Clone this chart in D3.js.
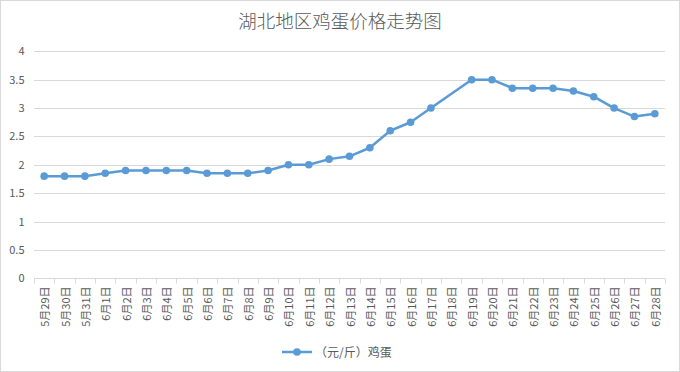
<!DOCTYPE html>
<html>
<head>
<meta charset="utf-8">
<script src="https://cdn.jsdelivr.net/npm/d3@7"></script>
<style>
  body { margin: 0; background: #fff; }
  svg text { font-family: "Noto Sans CJK SC", "Noto Sans", sans-serif; fill: #595959; }
</style>
</head>
<body>
<div id="chart"></div>
<script>
// data (6月18日 has no value)
var days = ["5月29日", "5月30日", "5月31日", "6月1日", "6月2日", "6月3日", "6月4日", "6月5日",
  "6月6日", "6月7日", "6月8日", "6月9日", "6月10日", "6月11日", "6月12日", "6月13日",
  "6月14日", "6月15日", "6月16日", "6月17日", "6月18日", "6月19日", "6月20日", "6月21日",
  "6月22日", "6月23日", "6月24日", "6月25日", "6月26日", "6月27日", "6月28日"]
var prices = [1.8, 1.8, 1.8, 1.85, 1.9, 1.9, 1.9, 1.9, 1.85, 1.85, 1.85, 1.9, 2.0, 2.0, 2.1, 2.15,
  2.3, 2.6, 2.75, 3.0, null, 3.5, 3.5, 3.35, 3.35, 3.35, 3.3, 3.2, 3.0, 2.85, 2.9]
var yTicks = [0, 0.5, 1, 1.5, 2, 2.5, 3, 3.5, 4]
var title = "湖北地区鸡蛋价格走势图"
var seriesName = "（元/斤）鸡蛋"

var W = 680, H = 372
var color = "#5b9bd5"
var grid = "#d9d9d9"

var svg = d3.select("#chart").append("svg")
  .attr("width", W)
  .attr("height", H)

svg.append("rect")
  .attr("x", 0.5).attr("y", 0.5)
  .attr("width", W - 1).attr("height", H - 1)
  .attr("fill", "#fff")
  .attr("stroke", grid)

svg.append("text")
  .attr("x", W / 2)
  .attr("y", 28)
  .attr("text-anchor", "middle")
  .style("font-size", "18.5px")
  .style("font-weight", 300)
  .text(title)

var x = d3.scaleBand().domain(days).range([34, 665])
var y = d3.scaleLinear().domain([0, 4]).range([278.3, 51.3])

// gridlines
svg.append("g")
  .selectAll("line")
  .data(yTicks.filter(d => d > 0))
  .join("line")
  .attr("x1", 34).attr("x2", 665)
  .attr("y1", d => Math.round(y(d)) + 0.5)
  .attr("y2", d => Math.round(y(d)) + 0.5)
  .attr("stroke", grid)

// y labels
svg.append("g")
  .selectAll("text")
  .data(yTicks)
  .join("text")
  .attr("x", 24.5)
  .attr("y", d => y(d) + 4)
  .attr("text-anchor", "end")
  .style("font-size", "11px")
  .text(d => d)

// x axis line and ticks
var y0 = Math.round(y(0)) + 0.5
svg.append("line")
  .attr("x1", 34).attr("x2", 665)
  .attr("y1", y0).attr("y2", y0)
  .attr("stroke", grid)

svg.append("g")
  .selectAll("line")
  .data(days.concat(["end"]))
  .join("line")
  .attr("x1", (d, i) => Math.round(34 + i * x.step()) + 0.5)
  .attr("x2", (d, i) => Math.round(34 + i * x.step()) + 0.5)
  .attr("y1", y0).attr("y2", y0 + 5)
  .attr("stroke", grid)

svg.append("g")
  .selectAll("text")
  .data(days)
  .join("text")
  .attr("transform", d => `translate(${x(d) + x.bandwidth() / 2 + 5},${y0 + 8}) rotate(-90)`)
  .attr("text-anchor", "end")
  .style("font-size", "11px")
  .text(d => d)

// series
var pts = days.map((d, i) => ({ day: d, v: prices[i] })).filter(d => d.v != null)
var cx = d => x(d.day) + x.bandwidth() / 2

svg.append("path")
  .datum(pts)
  .attr("fill", "none")
  .attr("stroke", color)
  .attr("stroke-width", 2.5)
  .attr("stroke-linejoin", "round")
  .attr("d", d3.line().x(cx).y(d => y(d.v)))

svg.append("g")
  .selectAll("circle")
  .data(pts)
  .join("circle")
  .attr("cx", cx)
  .attr("cy", d => y(d.v))
  .attr("r", 3.8)
  .attr("fill", color)

// legend
var lg = svg.append("g").attr("transform", "translate(282,352)")
lg.append("line")
  .attr("x1", 0).attr("x2", 30)
  .attr("stroke", color).attr("stroke-width", 2.5)
lg.append("circle").attr("cx", 15).attr("r", 3.8).attr("fill", color)
lg.append("text")
  .attr("x", 33).attr("y", 4.5)
  .style("font-size", "12px")
  .text(seriesName)
</script>
</body>
</html>
